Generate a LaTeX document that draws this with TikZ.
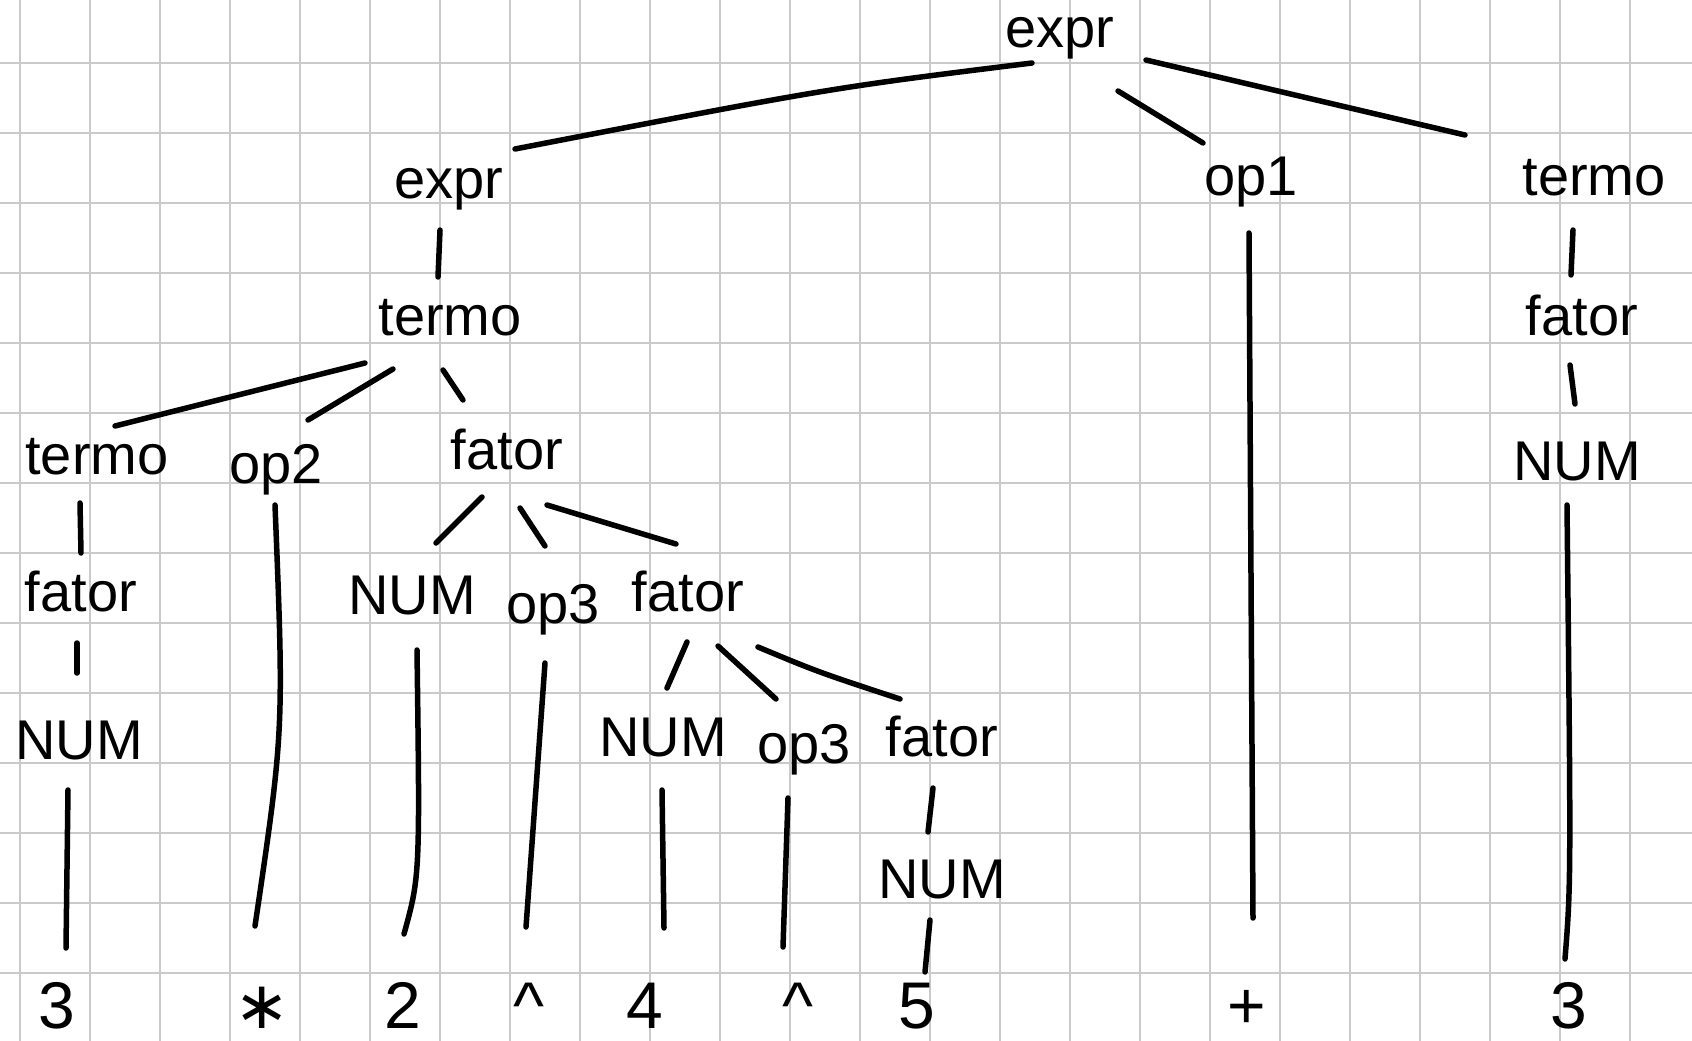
\documentclass[tikz,border=0pt]{standalone}
\usepackage{fontspec}
\setmainfont{Liberation Sans}
\newfontfamily\symfont{DejaVu Sans}
\usetikzlibrary{calc}
\definecolor{gridgray}{RGB}{202,202,202}
\begin{document}
\begin{tikzpicture}[x=1pt,y=-1pt,
  lbl/.style={inner sep=0pt, font=\fontsize{56}{60}\selectfont},
  leaf/.style={inner sep=0pt, anchor=base, font=\fontsize{66}{70}\selectfont},
  conn/.style={line width=5.5pt, line cap=round, black},
  gridline/.style={draw=gridgray, line width=1.4pt}]
\fill[white] (0,0) rectangle (1692,1041);
\useasboundingbox (0,0) rectangle (1692,1041);
% squared paper
\foreach \k in {0,...,23} { \draw[gridline] (20+70*\k,0) -- (20+70*\k,1041); }
\foreach \k in {0,...,13} { \draw[gridline] (0,63+70*\k) -- (1692,63+70*\k); }
% inner nodes
\node[lbl] (root) at (1060,38) {expr};
\node[lbl] (e1)   at (449,189) {expr};
\node[lbl] (op1)  at (1251,182) {op1};
\node[lbl] (tR)   at (1594,178) {termo};
\node[lbl] (t2)   at (450,318) {termo};
\node[lbl] (fR)   at (1582,316) {fator};
\node[lbl] (nR)   at (1577,462) {NUM};
\node[lbl] (t3)   at (97,457) {termo};
\node[lbl] (op2)  at (276,470) {op2};
\node[lbl] (f3)   at (507,450) {fator};
\node[lbl] (f4a)  at (81,592) {fator};
\node[lbl] (n4)   at (412,596) {NUM};
\node[lbl] (op3a) at (553,610) {op3};
\node[lbl] (f4)   at (688,592) {fator};
\node[lbl] (n5a)  at (79,741) {NUM};
\node[lbl] (n5)   at (663,738) {NUM};
\node[lbl] (op3b) at (804,750) {op3};
\node[lbl] (f5)   at (942,737) {fator};
\node[lbl] (n6)   at (942,879) {NUM};
% leaves
\node[leaf] (l1) at (57,1028) {3};
\node[leaf] (l2) at (262,1028) {\symfont ∗};
\node[leaf] (l3) at (403,1028) {2};
\node[leaf] (l4) at (529,1028) {\textasciicircum};
\node[leaf] (l5) at (645,1028) {4};
\node[leaf] (l6) at (798,1028) {\textasciicircum};
\node[leaf] (l7) at (917,1028) {5};
\node[leaf] (l8) at (1247,1028) {+};
\node[leaf] (l9) at (1569,1028) {3};
% connectors
\draw[conn] ($(root)+(-28,25)$) .. controls ($(root)+(-230,50)$) .. ($(e1)+(66,-40)$);
\draw[conn] ($(root)+(58,53)$) -- ($(op1)+(-48,-39)$);
\draw[conn] ($(root)+(86,22)$) -- ($(tR)+(-129,-43)$);
\draw[conn] ($(e1)+(-9,41)$) -- ($(t2)+(-12,-41)$);
\draw[conn] ($(t2)+(-85,45)$) -- ($(t3)+(18,-31)$);
\draw[conn] ($(t2)+(-57,51)$) -- ($(op2)+(32,-50)$);
\draw[conn] ($(t2)+(-7,52)$) -- ($(f3)+(-44,-50)$);
\draw[conn] ($(t3)+(-17,46)$) -- ($(f4a)+(0,-39)$);
\draw[conn] ($(f4a)+(-4,51)$) -- ($(n5a)+(-2,-68)$);
\draw[conn] ($(n5a)+(-11,49)$) -- ($(l1.base)+(9,-80)$);
\draw[conn] ($(op2)+(-1,35)$) .. controls ($(op2)+(8,260)$) .. ($(l2.base)+(-7,-102)$);
\draw[conn] ($(f3)+(-25,47)$) -- ($(n4)+(24,-53)$);
\draw[conn] ($(f3)+(13,58)$) -- ($(op3a)+(-8,-64)$);
\draw[conn] ($(f3)+(40,55)$) -- ($(f4)+(-12,-48)$);
\draw[conn] ($(n4)+(5,54)$) .. controls ($(n4)+(8,280)$) .. ($(l3.base)+(1,-94)$);
\draw[conn] ($(op3a)+(-8,53)$) -- ($(l4.base)+(-3,-101)$);
\draw[conn] ($(f4)+(-1,50)$) -- ($(n5)+(4,-50)$);
\draw[conn] ($(f4)+(30,54)$) -- ($(op3b)+(-28,-51)$);
\draw[conn] ($(f4)+(70,55)$) .. controls ($(f4)+(130,80)$) .. ($(f5)+(-42,-38)$);
\draw[conn] ($(n5)+(-1,52)$) -- ($(l5.base)+(19,-100)$);
\draw[conn] ($(op3b)+(-16,48)$) -- ($(l6.base)+(-15,-81)$);
\draw[conn] ($(f5)+(-9,51)$) -- ($(n6)+(-14,-47)$);
\draw[conn] ($(n6)+(-12,41)$) -- ($(l7.base)+(8,-56)$);
\draw[conn] ($(op1)+(-2,51)$) -- ($(l8.base)+(6,-110)$);
\draw[conn] ($(tR)+(-21,52)$) -- ($(fR)+(-11,-41)$);
\draw[conn] ($(fR)+(-12,49)$) -- ($(nR)+(-2,-58)$);
\draw[conn] ($(nR)+(-10,43)$) .. controls ($(nR)+(-6,420)$) .. ($(l9.base)+(-4,-69)$);
\end{tikzpicture}
\end{document}
